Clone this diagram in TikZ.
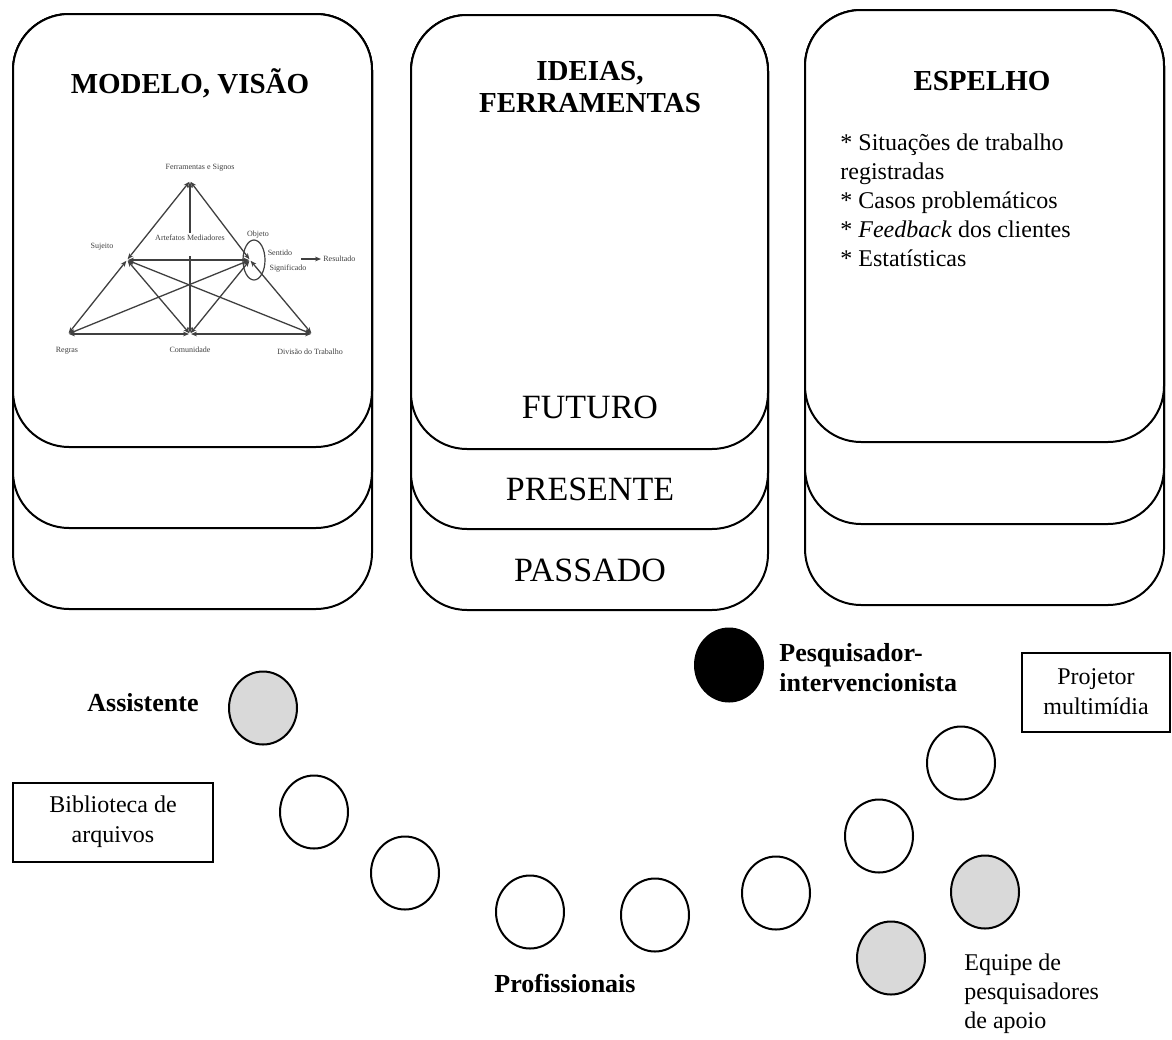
\documentclass[tikz,border=0pt]{standalone}
\usepackage{fontspec}
\setmainfont{Liberation Serif}
\usetikzlibrary{arrows.meta,shapes.geometric}

\begin{document}
\begin{tikzpicture}[x=0.5pt, y=-0.5pt]
    \tikzset{card/.style={draw, line width=1pt, fill=white, rounded corners=28pt},
        coltitle/.style={font=\fontsize{14.5}{16}\selectfont\bfseries, align=center},
        period/.style={font=\fontsize{17}{20}\selectfont},
        tinytxt/.style={font=\fontsize{4}{4.5}\selectfont, text=black!75, inner sep=0.5pt},
        tri/.style={<->, >={Stealth[length=3pt, width=2.4pt]}, line width=0.65pt,
            black!75, shorten <=0.5pt, shorten >=0.5pt},
        person/.style={ellipse, draw, line width=1pt, minimum width=34pt,
            minimum height=36.5pt, inner sep=0pt},
        desc/.style={font=\fontsize{12}{14.5}\selectfont, align=left},
        bolddesc/.style={font=\fontsize{13}{15}\selectfont\bfseries, align=left},
        thing/.style={draw, line width=1pt, font=\fontsize{12}{15}\selectfont,
            align=center, minimum height=39.5pt, inner sep=0pt}
    }
    \useasboundingbox (0,0) rectangle (1172,1039);
    % stacked cards, back to front
    \foreach \xl/\xr/\yt/\ya/\yb/\yc in
        {13/372/14/447/528/609, 411/768/15/449/529/610, 805/1164/10/442/524/605} {
        \draw[card] (\xl,\yt) rectangle (\xr,\yc);
        \draw[card] (\xl,\yt) rectangle (\xr,\yb);
        \draw[card] (\xl,\yt) rectangle (\xr,\ya);
    }
    % card titles
    \node[coltitle] (modelo) at (190,83) {MODELO, VISÃO};
    \node[coltitle] (ideias) at (590,87) {IDEIAS,\\FERRAMENTAS};
    \node[coltitle] (espelho) at (982,81) {ESPELHO};
    \foreach \name/\y/\txt in {futuro/407/FUTURO, presente/489/PRESENTE, passado/570/PASSADO} {
        \node[period] (\name) at (590,\y) {\txt};
    }
    \node[desc, anchor=north west, inner sep=0pt] (lista) at (840,133)
        {* Situações de trabalho\\registradas\\* Casos problemáticos\\%
        * \textit{Feedback} dos clientes\\* Estatísticas};
    % activity triangle
    \coordinate (fer) at (190,181);
    \coordinate (suj) at (127,260);
    \coordinate (obj) at (250,260);
    \coordinate (reg) at (68,334);
    \coordinate (com) at (190,334);
    \coordinate (div) at (312,334);
    \node[tinytxt] (ferlab) at (200,168) {Ferramentas e Signos};
    \node[tinytxt] (sujlab) at (102,247) {Sujeito};
    \node[tinytxt] (artefatos) at (190,238) {Artefatos Mediadores};
    \node[tinytxt] (objlab) at (258,235) {Objeto};
    \node[tinytxt] (sentido) at (280,253) {Sentido};
    \node[tinytxt] (signif) at (288,269) {Significado};
    \node[tinytxt, anchor=west] (resultado) at (322,259) {Resultado};
    \node[tinytxt] (reglab) at (67,351) {Regras};
    \node[tinytxt] (comlab) at (190,350) {Comunidade};
    \node[tinytxt] (divlab) at (310,352) {Divisão do Trabalho};
    \node[ellipse, draw, black!75, line width=0.6pt, minimum width=11pt,
        minimum height=20pt, inner sep=0pt] (objring) at (254,260) {};
    \foreach \a/\b in {fer/suj, fer/obj, suj/obj, suj/reg, suj/com, suj/div,
        obj/reg, obj/com, obj/div, reg/com, com/div} {
        \draw[tri] (\a) -- (\b);
    }
    \draw[tri, ->] (artefatos.north) -- (fer);
    \draw[tri, ->] ([yshift=-6.5pt]artefatos.south) -- (com);
    \coordinate (res0) at (300,259);
    \draw[tri, ->] (res0) -- (resultado.west);
    % people around the room
    \foreach \name/\x/\y/\tone in
        {asst/263/708/gray!30, p1/314/812/white, p2/405/873/white, p3/530/912/white,
        p4/655/915/white, p5/776/893/white, p6/879/836/white, p7/961/763/white,
        eq1/985/892/gray!30, eq2/891/958/gray!30, pesq/729/665/black} {
        \node[person, fill=\tone] (\name) at (\x,\y) {};
    }
    % labels
    \node[bolddesc] (assistente) at (143,703) {Assistente};
    \node[bolddesc] (profissionais) at (565,983) {Profissionais};
    \node[bolddesc, anchor=west, inner sep=0pt] (pesquisador) at (779,668)
        {Pesquisador-\\intervencionista};
    \node[desc, anchor=west, inner sep=0pt] (equipe) at (964,994)
        {Equipe de\\pesquisadores\\de apoio};
    \node[thing, minimum width=100pt] (biblioteca) at (113,822) {Biblioteca de\\arquivos};
    \node[thing, minimum width=74pt] (projetor) at (1096,692) {Projetor\\multimídia};
\end{tikzpicture}
\end{document}
